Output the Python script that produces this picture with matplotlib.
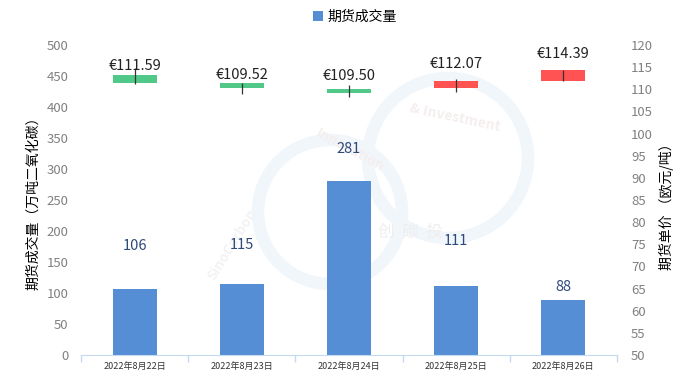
import matplotlib
matplotlib.use("Agg")
import matplotlib.pyplot as plt
from matplotlib.patches import Circle
import numpy as np

plt.rcParams['font.family'] = ['Noto Sans CJK SC', 'DejaVu Sans']

dates = ['2022年8月22日', '2022年8月23日', '2022年8月24日', '2022年8月25日', '2022年8月26日']
volume = [106, 115, 281, 111, 88]
opens = [113.2, 111.5, 110.1, 110.4, 111.9]
closes = [111.5, 110.4, 109.1, 111.9, 114.4]
highs = [114.9, 111.5, 111.0, 112.3, 114.4]
lows = [111.1, 108.9, 108.2, 109.5, 111.9]
prices = [111.59, 109.52, 109.50, 112.07, 114.39]
price_labels = ['€111.59', '€109.52', '€109.50', '€112.07', '€114.39']
vol_label_offsets = [43, 39, 32, 45, 13]  # px above bar top

W, H = 688, 385
fig = plt.figure(figsize=(W / 100, H / 100), dpi=100)
ax = fig.add_axes([81 / W, 1 - 355 / H, (617 - 81) / W, (355 - 45) / H])
ax.set_zorder(1)

x = np.arange(len(dates))
bar_color = '#558ED5'

# faint watermark
wm = '#F1F6FB'
for cx, cy, r in [(330, 212, 72), (448, 158, 80)]:
    fig.add_artist(Circle((cx / 100, (H - cy) / 100), r / 100, transform=fig.dpi_scale_trans,
                          fill=False, ec=wm, lw=9, zorder=-1))
for tx, ty, s, rot, col in [(232, 245, 'SinoCarbon', 58, '#F3F3F3'),
                            (350, 150, 'Innovation', -28, '#F5EEEE'),
                            (455, 118, '& Investment', -12, '#F5EEEE')]:
    t = fig.text(tx / W, 1 - ty / H, s, rotation=rot, color=col, fontsize=10,
                 fontweight='bold', ha='center', va='center')
    t.set_zorder(-1)
t = fig.text(410 / W, 1 - 232 / H, '创  碳  投', color='#EEEEEE', fontsize=12, ha='center', va='center')
t.set_zorder(-1)
ax.patch.set_alpha(0)

bars = ax.bar(x, volume, width=0.41, color=bar_color, label='期货成交量', zorder=2)
for xi, v, off in zip(x, volume, vol_label_offsets):
    ax.annotate(str(v), (xi, v), xytext=(0, off * 0.72), textcoords='offset points',
                ha='center', va='center', fontsize=10.5, color='#2E4A7A')

ax.set_xlim(-0.5, len(dates) - 0.5)
ax.set_ylim(0, 500)
ax.set_yticks(np.arange(0, 501, 50))
ax.set_xticks(x)
ax.set_xticklabels(dates, fontsize=6.5, color='#333333')
ax.set_xticks(np.arange(-0.5, len(dates), 1), minor=True)
ax.tick_params(axis='x', which='major', length=0, pad=5)
ax.tick_params(axis='x', which='minor', length=5, color='#C5D9F1', width=1)
ax.tick_params(axis='y', length=0, pad=9, labelsize=9.5, labelcolor='#808080')
for s in ['top', 'left', 'right']:
    ax.spines[s].set_visible(False)
ax.spines['bottom'].set_color('#C5D9F1')

ax2 = ax.twinx()
ax2.set_zorder(2)
ax2.patch.set_alpha(0)
ax2.set_ylim(50, 120)
ax2.set_yticks(np.arange(50, 121, 5))
ax2.tick_params(axis='y', length=0, pad=10, labelsize=9.5, labelcolor='#808080')
for s in ['top', 'left', 'right', 'bottom']:
    ax2.spines[s].set_visible(False)

for xi, o, c, h, l in zip(x, opens, closes, highs, lows):
    col = '#FF5252' if c >= o else '#50C887'
    ax2.bar(xi, abs(c - o), bottom=min(o, c), width=0.41, color=col, zorder=3)
    ax2.vlines(xi, l, h, color='#333333', lw=0.9, zorder=4)
for xi, p, t in zip(x, prices, price_labels):
    ax2.annotate(t, (xi, p), xytext=(0, 11.5), textcoords='offset points',
                 ha='center', va='center', fontsize=10.5, color='#222222', zorder=5)

fig.text(33 / W, 1 - 200 / H, '期货成交量（万吨二氧化碳）', rotation=90, ha='center', va='center',
         fontsize=10, color='#000000')
fig.text(666 / W, 1 - 203 / H, '期货单价 （欧元/吨）', rotation=90, ha='center', va='center',
         fontsize=10, color='#000000')

fig.legend(handles=[bars], labels=['期货成交量'], loc='center', bbox_to_anchor=(355 / W, 1 - 17 / H),
           frameon=False, fontsize=10, handlelength=0.7, handleheight=0.7, handletextpad=0.3)

fig.savefig('out.png', dpi=100)
